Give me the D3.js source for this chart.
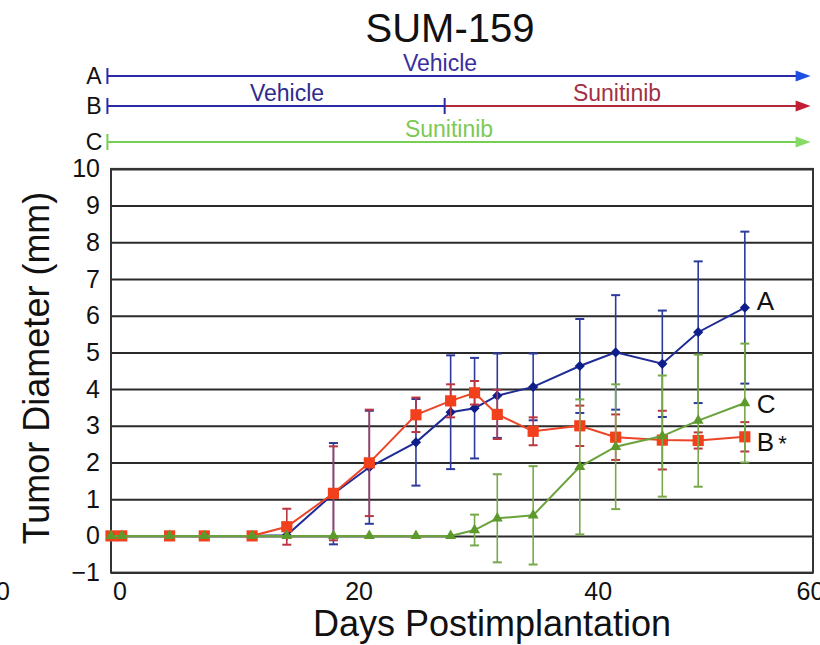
<!DOCTYPE html>
<html>
<head>
<meta charset="utf-8">
<script src="https://cdn.jsdelivr.net/npm/d3@7"></script>
<style>
  html, body { margin: 0; padding: 0; background: #fff; }
  svg { display: block; font-family: "Liberation Sans", Arial, Helvetica, sans-serif; }
</style>
</head>
<body>
<svg id="chart" width="820" height="645"></svg>
<script>
// Measurement days (days postimplantation)
const days = [-0.7, 0.2, 4.2, 7.1, 11.1, 14.0, 17.9, 20.9, 24.8, 27.7, 29.7, 31.6, 34.6, 38.5, 41.5, 45.4, 48.4, 52.3];

// Group A: vehicle throughout
const meanA = [0, 0, 0, 0, 0, 0.02, 1.15, 1.87, 2.55, 3.37, 3.48, 3.82, 4.06, 4.63, 5.00, 4.69, 5.55, 6.22];
const errA  = [0, 0, 0, 0, 0, 0, 1.38, 1.54, 1.18, 1.55, 1.37, 1.15, 0.91, 1.28, 1.56, 1.45, 1.93, 2.07];

// Group B: vehicle, then sunitinib
const meanB = [0, 0, 0, 0, 0, 0.25, 1.16, 1.99, 3.30, 3.68, 3.90, 3.31, 2.85, 3.00, 2.69, 2.61, 2.60, 2.70];
const errB  = [0, 0, 0, 0, 0, 0.49, 1.28, 1.45, 0.47, 0.45, 0.32, 0.67, 0.38, 0.55, 0.62, 0.80, 0.22, 0.40];

// Group C: sunitinib throughout
const meanC = [0, 0, 0, 0, 0, 0, 0, 0, 0, 0, 0.16, 0.48, 0.56, 1.88, 2.43, 2.72, 3.14, 3.62];
const errC  = [0, 0, 0, 0, 0, 0, 0, 0, 0, 0, 0.42, 1.20, 1.34, 1.84, 1.70, 1.65, 1.80, 1.62];

// Axis ticks
const yTicks = [-1, 0, 1, 2, 3, 4, 5, 6, 7, 8, 9, 10];
const xTicks = [0, 20, 40, 60];

// Treatment schedule (days) shown above the plot
const armNames = ["A", "B", "C"];
const scheduleStart = -1;
const switchDay = 27.2;
const scheduleEnd = 57.8;

const svg = d3.select("#chart");
const plot = { left: 111, right: 813, top: 168.9, bottom: 572.6 };

const x = d3.scaleLinear().domain([-0.7, 58.0]).range([plot.left, plot.right]);
const y = d3.scaleLinear().domain([-1, 10]).range([plot.bottom, plot.top]);

// Title
svg.append("text")
  .attr("x", 450).attr("y", 42)
  .attr("text-anchor", "middle")
  .attr("font-size", 40).attr("fill", "#111")
  .text("SUM-159");

// ---- Treatment timelines ----
const arrowRows = { A: 76, B: 106, C: 142 };
const colA = "#2a2aa6", colRed = "#b02a3a", colGreen = "#74cf52";

function arrowHead(xTip, yy, color) {
  svg.append("path")
    .attr("d", `M${xTip},${yy} L${xTip - 15},${yy - 5.5} L${xTip - 15},${yy + 5.5} Z`)
    .attr("fill", color);
}
function segment(x0, x1, yy, color) {
  svg.append("line")
    .attr("x1", x0).attr("x2", x1).attr("y1", yy).attr("y2", yy)
    .attr("stroke", color).attr("stroke-width", 2);
}
function tick(xx, yy, color) {
  svg.append("line")
    .attr("x1", xx).attr("x2", xx).attr("y1", yy - 8).attr("y2", yy + 8)
    .attr("stroke", color).attr("stroke-width", 2);
}
function armText(xx, yy, txt, color) {
  svg.append("text")
    .attr("x", xx).attr("y", yy)
    .attr("text-anchor", "middle")
    .attr("font-size", 23).attr("fill", color)
    .text(txt);
}

const xs = x(scheduleStart), xe = x(scheduleEnd), xsw = x(switchDay);

// Row labels
armNames.forEach(n => {
  svg.append("text")
    .attr("x", 94).attr("y", arrowRows[n] + 8)
    .attr("text-anchor", "middle")
    .attr("font-size", 23).attr("fill", "#111")
    .text(n);
});

// A: vehicle
segment(xs, xe - 12, arrowRows.A, colA);
tick(xs, arrowRows.A, colA);
arrowHead(xe, arrowRows.A, "#1f4fe0");
armText(440, arrowRows.A - 5, "Vehicle", "#3a2f9c");

// B: vehicle -> sunitinib
segment(xs, xsw, arrowRows.B, colA);
segment(xsw, xe - 12, arrowRows.B, colRed);
tick(xs, arrowRows.B, colA);
tick(xsw, arrowRows.B, colA);
arrowHead(xe, arrowRows.B, "#c41e34");
armText(287, arrowRows.B - 5, "Vehicle", "#2e2c8c");
armText(617, arrowRows.B - 5, "Sunitinib", "#a23044");

// C: sunitinib
segment(xs, xe - 12, arrowRows.C, colGreen);
tick(xs, arrowRows.C, colGreen);
arrowHead(xe, arrowRows.C, "#86da66");
armText(449, arrowRows.C - 5, "Sunitinib", "#7cc955");

// ---- Plot area ----
// Gridlines
svg.append("g")
  .attr("transform", `translate(${plot.left},0)`)
  .call(d3.axisLeft(y).tickValues(yTicks).tickSize(-(plot.right - plot.left)).tickFormat(""))
  .call(g => g.select(".domain").remove())
  .call(g => g.selectAll("line").attr("stroke", "#2a2a2a").attr("stroke-width", 2));

// Frame
svg.append("rect")
  .attr("x", plot.left).attr("y", plot.top)
  .attr("width", plot.right - plot.left).attr("height", plot.bottom - plot.top)
  .attr("fill", "none").attr("stroke", "#333").attr("stroke-width", 2);

// Y axis labels
svg.append("g")
  .attr("transform", `translate(${plot.left},0)`)
  .call(d3.axisLeft(y).tickValues(yTicks).tickSize(0).tickPadding(11).tickFormat(d3.format("d")))
  .call(g => g.select(".domain").remove())
  .call(g => g.selectAll("text")
    .attr("font-size", 25).attr("fill", "#111")
    .attr("font-family", "Liberation Sans, Arial, sans-serif"));

// X axis labels (edge label kept inside the canvas)
svg.append("g")
  .attr("transform", `translate(0,${plot.bottom})`)
  .call(d3.axisBottom(x).tickValues(xTicks).tickSize(0).tickPadding(9.6).tickFormat(d3.format("d")))
  .call(g => g.select(".domain").remove())
  .call(g => g.selectAll("text")
    .attr("font-size", 25).attr("fill", "#111")
    .attr("font-family", "Liberation Sans, Arial, sans-serif")
    .attr("dx", d => Math.min(0, 810 - x(d))));

// Neighbouring axis label remnant at the far left edge
svg.append("text")
  .attr("x", 3).attr("y", 600)
  .attr("text-anchor", "middle")
  .attr("font-size", 25).attr("fill", "#111")
  .text("0");

// Axis titles
svg.append("text")
  .attr("transform", "translate(49,368) rotate(-90)")
  .attr("text-anchor", "middle")
  .attr("font-size", 36).attr("fill", "#111")
  .text("Tumor Diameter (mm)");

svg.append("text")
  .attr("x", 492).attr("y", 636)
  .attr("text-anchor", "middle")
  .attr("font-size", 36).attr("fill", "#111")
  .text("Days Postimplantation");

// ---- Series ----
const series = [
  { key: "A", mean: meanA, err: errA, line: "#1f2b96", bar: "#2c3a9e", mark: "#0e1e8a", shape: "diamond" },
  { key: "B", mean: meanB, err: errB, line: "#ec4427", bar: "#bb3640", mark: "#f2401c", shape: "square" },
  { key: "C", mean: meanC, err: errC, line: "#6aa23c", bar: "#78a84a", mark: "#5d9a2c", shape: "triangle" }
];

const lineGen = d3.line().x(d => x(d.day)).y(d => y(d.v));

series.forEach(s => {
  const pts = days.map((d, i) => ({ day: d, v: s.mean[i], e: s.err[i] }));
  const g = svg.append("g");

  // Error bars
  const eb = g.selectAll("g.eb").data(pts.filter(p => p.e > 0)).join("g");
  eb.append("line")
    .attr("x1", p => x(p.day)).attr("x2", p => x(p.day))
    .attr("y1", p => y(p.v - p.e)).attr("y2", p => y(p.v + p.e))
    .attr("stroke", s.bar).attr("stroke-width", 1.6);
  [-1, 1].forEach(sign => {
    eb.append("line")
      .attr("x1", p => x(p.day) - 4.5).attr("x2", p => x(p.day) + 4.5)
      .attr("y1", p => y(p.v + sign * p.e)).attr("y2", p => y(p.v + sign * p.e))
      .attr("stroke", s.bar).attr("stroke-width", 2);
  });

  // Line
  g.append("path")
    .datum(pts)
    .attr("d", lineGen)
    .attr("fill", "none")
    .attr("stroke", s.line).attr("stroke-width", 2);

  // Markers
  let sym, rot = 0;
  if (s.shape === "diamond") { sym = d3.symbol().type(d3.symbolSquare).size(52); rot = 45; }
  else if (s.shape === "square") { sym = d3.symbol().type(d3.symbolSquare).size(125); }
  else { sym = d3.symbol().type(d3.symbolTriangle).size(52); }
  g.selectAll("path.m").data(pts).join("path")
    .attr("class", "m")
    .attr("d", sym)
    .attr("transform", p => `translate(${x(p.day)},${y(p.v)}) rotate(${rot})`)
    .attr("fill", s.mark);
});

// End-of-series group labels
const last = days.length - 1;
const endLabels = [
  { txt: "A", v: meanA[last], dy: 2 },
  { txt: "C", v: meanC[last], dy: 10 },
  { txt: "B", v: meanB[last], dy: 14, star: true }
];
endLabels.forEach(l => {
  const t = svg.append("text")
    .attr("x", x(days[last]) + 12).attr("y", y(l.v) + l.dy)
    .attr("font-size", 26).attr("fill", "#111")
    .text(l.txt);
  if (l.star) t.append("tspan").attr("dx", 4).attr("font-size", 22).text("*");
});
</script>
</body>
</html>
